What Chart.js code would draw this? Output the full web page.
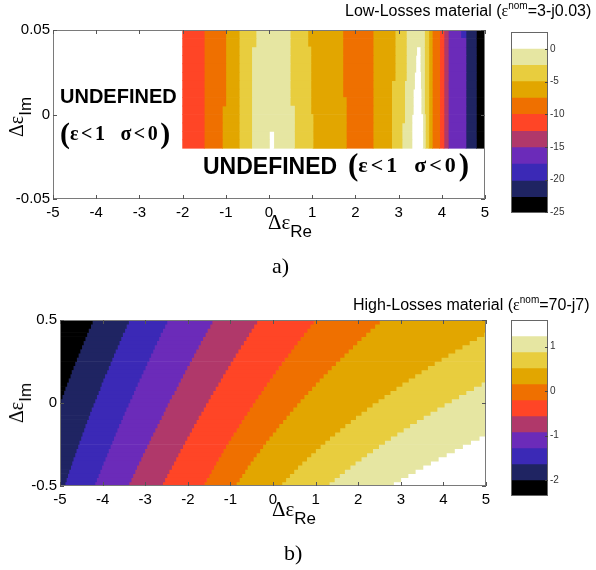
<!DOCTYPE html>
<html><head><meta charset="utf-8">
<script src="https://cdn.jsdelivr.net/npm/chart.js@4.4.1/dist/chart.umd.min.js"></script>
<style>
html,body{margin:0;padding:0;background:#fff;width:596px;height:570px;overflow:hidden;}
#wrap{position:relative;width:596px;height:570px;}
canvas{position:absolute;}
.t{position:absolute;white-space:nowrap;font-family:"Liberation Sans",Arial,sans-serif;color:#000;line-height:1;}
.sf{font-family:"Liberation Serif","Times New Roman",serif;}
sup{font-size:10px;vertical-align:0;position:relative;top:-7px;line-height:0;}
.lbl sub{font-family:"Liberation Sans",Arial,sans-serif;font-size:17px;vertical-align:0;position:relative;top:8px;line-height:0;}
</style></head><body><div id="wrap">
<canvas id="pa" width="500" height="230" style="left:0;top:0"></canvas>
<canvas id="ca" width="80" height="210" style="left:505px;top:20px"></canvas>
<canvas id="pb" width="500" height="211" style="left:0;top:300px"></canvas>
<canvas id="cb" width="80" height="200" style="left:505px;top:310px"></canvas>

<div class="t" style="left:345px;top:3px;font-size:16px">Low-Losses material (<span class="sf">ε</span><sup>nom</sup>=3-j0.03)</div>
<div class="t" style="left:353px;top:297px;font-size:16px">High-Losses material (<span class="sf">ε</span><sup>nom</sup>=70-j7)</div>

<div class="t" style="left:60px;top:86px;font-size:20px;font-weight:bold">UNDEFINED</div>
<div class="t sf" style="left:60px;top:118px;font-weight:bold"><span style="font-size:30px">(</span><span style="font-size:20px;letter-spacing:2.5px;position:relative;top:-3px">ε&lt;1<span style="margin-left:13px">σ&lt;0</span></span><span style="font-size:30px">)</span></div>
<div class="t" style="left:203px;top:155px;font-size:23px;font-weight:bold">UNDEFINED</div>
<div class="t sf" style="left:348px;top:149px;font-weight:bold"><span style="font-size:31px">(</span><span style="font-size:22px;letter-spacing:3px;position:relative;top:-3px">ε&lt;1<span style="margin-left:14px">σ&lt;0</span></span><span style="font-size:31px">)</span></div>

<div class="t lbl" style="left:16px;top:117px;transform:translate(-50%,-50%) rotate(-90deg)"><span class="sf" style="font-size:20px">Δε</span><sub>Im</sub></div>
<div class="t lbl" style="left:16px;top:403px;transform:translate(-50%,-50%) rotate(-90deg)"><span class="sf" style="font-size:20px">Δε</span><sub>Im</sub></div>
<div class="t lbl" style="left:268px;top:212px"><span class="sf" style="font-size:21px">Δε</span><sub>Re</sub></div>
<div class="t lbl" style="left:272px;top:499px"><span class="sf" style="font-size:21px">Δε</span><sub>Re</sub></div>

<div class="t sf" style="left:272px;top:255px;font-size:22px">a)</div>
<div class="t sf" style="left:284px;top:542px;font-size:22px">b)</div>
</div>
<script>
// ---------- data ----------
const COLORS = ['#ffffff','#e6e6a2','#e8cd3e','#e2a600','#ef7000','#ff4526','#b0386a','#6b2bb9','#3b29b6','#1f2462','#000000'];

const xTicks = [-5,-4,-3,-2,-1,0,1,2,3,4,5];
const aYTicks = [-0.05,0,0.05];
const bYTicks = [-0.5,0,0.5];

// Plot a): rows (Δε_Im centres) with colour-band edges along Δε_Re and the band index of each segment
const aRowY = [0.0475,0.0425,0.0375,0.0325,0.0275,0.0225,0.0175,0.0125,0.0075,0.0025,-0.0025,-0.0075,-0.0125,-0.0175];
const aEdges = [
 [-2,-1.5,-1.00,-0.69,-0.30,0.49,0.90,1.71,2.41,2.92,3.18,3.60,3.70,3.78,3.95,4.05,4.15,4.44,4.56,4.80,5],
 [-2,-1.5,-1.00,-0.69,-0.30,0.49,0.90,1.71,2.41,2.92,3.18,3.60,3.70,3.78,3.95,4.05,4.15,4.56,4.80,5],
 [-2,-1.5,-1.00,-0.69,-0.40,0.49,0.97,1.71,2.41,2.92,3.18,3.42,3.50,3.60,3.70,3.78,3.95,4.05,4.15,4.56,4.80,5],
 [-2,-1.5,-1.00,-0.69,-0.40,0.49,0.97,1.71,2.41,2.92,3.18,3.40,3.50,3.60,3.70,3.78,3.95,4.05,4.15,4.56,4.80,5],
 [-2,-1.5,-1.00,-0.69,-0.40,0.49,0.97,1.71,2.41,2.92,3.18,3.40,3.50,3.60,3.70,3.78,3.95,4.05,4.15,4.56,4.80,5],
 [-2,-1.5,-1.00,-0.69,-0.40,0.49,0.97,1.71,2.41,2.92,3.18,3.37,3.51,3.60,3.70,3.78,3.95,4.05,4.15,4.56,4.80,5],
 [-2,-1.5,-1.00,-0.69,-0.40,0.49,0.97,1.71,2.41,2.84,3.14,3.37,3.51,3.60,3.70,3.78,3.95,4.05,4.15,4.56,4.80,5],
 [-2,-1.5,-1.00,-0.69,-0.40,0.49,0.97,1.71,2.41,2.84,3.14,3.34,3.52,3.60,3.70,3.78,3.95,4.05,4.15,4.56,4.80,5],
 [-2,-1.5,-1.00,-0.69,-0.40,0.49,0.97,1.79,2.41,2.84,3.14,3.34,3.52,3.60,3.70,3.78,3.95,4.05,4.15,4.56,4.80,5],
 [-2,-1.5,-1.08,-0.69,-0.40,0.59,0.97,1.79,2.41,2.84,3.14,3.34,3.52,3.60,3.70,3.78,3.95,4.05,4.15,4.56,4.80,5],
 [-2,-1.5,-1.08,-0.69,-0.40,0.59,1.02,1.79,2.41,2.84,3.14,3.31,3.56,3.62,3.70,3.78,3.95,4.05,4.15,4.56,4.80,5],
 [-2,-1.5,-1.08,-0.69,-0.40,0.59,1.02,1.79,2.41,2.84,3.08,3.31,3.56,3.62,3.70,3.78,3.95,4.05,4.15,4.56,4.80,5],
 [-2,-1.5,-1.08,-0.69,-0.40,0.01,0.11,0.59,1.02,1.79,2.41,2.84,3.08,3.31,3.56,3.62,3.70,3.78,3.95,4.05,4.15,4.56,4.80,5],
 [-2,-1.5,-1.08,-0.69,-0.40,0.01,0.11,0.59,1.02,1.79,2.41,2.84,3.08,3.31,3.56,3.62,3.70,3.78,3.95,4.05,4.15,4.56,4.80,5]
];
const aBandsTop  = [5,4,3,2,1,2,3,4,3,2,1,2,3,4,5,6,7,8,9,10];
const aBandsR1   = [5,4,3,2,1,2,3,4,3,2,1,2,3,4,5,6,7,9,10];
const aBandsMid  = [5,4,3,2,1,2,3,4,3,2,1,0,1,2,3,4,5,6,7,9,10];
const aBandsLow  = [5,4,3,2,1,0,1,2,3,4,3,2,1,0,1,2,3,4,5,6,7,9,10];
const aBands = [aBandsTop,aBandsR1,aBandsMid,aBandsMid,aBandsMid,aBandsMid,aBandsMid,aBandsMid,aBandsMid,aBandsMid,aBandsMid,aBandsMid,aBandsLow,aBandsLow];

// Plot b): rows and the ten contour boundaries (Δε_Re) per row
const bRowY = [0.4875,0.4625,0.4375,0.4125,0.3875,0.3625,0.3375,0.3125,0.2875,0.2625,0.2375,0.2125,0.1875,0.1625,0.1375,0.1125,0.0875,0.0625,0.0375,0.0125,
               -0.0125,-0.0375,-0.0625,-0.0875,-0.1125,-0.1375,-0.1625,-0.1875,-0.2125,-0.2375,-0.2625,-0.2875,-0.3125,-0.3375,-0.3625,-0.3875,-0.4125,-0.4375,-0.4625,-0.4875];
const b1 = [-4.24,-4.28,-4.33,-4.37,-4.41,-4.45,-4.49,-4.53,-4.57,-4.61,-4.65,-4.69,-4.73,-4.76,-4.80,-4.84,-4.88,-4.91,-4.95,-4.98,
            -5,-5,-5,-5,-5,-5,-5,-5,-5,-5,-5,-5,-5,-5,-5,-5,-5,-5,-5,-5];
const b2 = [-3.39,-3.44,-3.48,-3.53,-3.57,-3.61,-3.65,-3.70,-3.74,-3.78,-3.82,-3.86,-3.90,-3.95,-3.99,-4.03,-4.06,-4.10,-4.14,-4.18,
            -4.22,-4.26,-4.30,-4.33,-4.37,-4.41,-4.44,-4.48,-4.51,-4.55,-4.58,-4.62,-4.65,-4.69,-4.72,-4.75,-4.79,-4.82,-4.85,-4.88];
const b3 = [-2.49,-2.54,-2.59,-2.64,-2.68,-2.73,-2.78,-2.82,-2.87,-2.91,-2.96,-3.00,-3.05,-3.09,-3.14,-3.18,-3.23,-3.27,-3.31,-3.36,
            -3.40,-3.45,-3.49,-3.53,-3.57,-3.62,-3.66,-3.70,-3.74,-3.78,-3.82,-3.86,-3.90,-3.94,-3.98,-4.02,-4.06,-4.10,-4.14,-4.18];
const b4 = [-1.43,-1.48,-1.54,-1.59,-1.65,-1.70,-1.75,-1.81,-1.86,-1.91,-1.96,-2.02,-2.07,-2.12,-2.17,-2.22,-2.27,-2.32,-2.38,-2.43,
            -2.48,-2.53,-2.57,-2.62,-2.67,-2.72,-2.77,-2.82,-2.87,-2.91,-2.96,-3.01,-3.06,-3.10,-3.15,-3.20,-3.24,-3.29,-3.33,-3.38];
const b5 = [-0.38,-0.45,-0.51,-0.57,-0.63,-0.69,-0.76,-0.82,-0.88,-0.94,-1.00,-1.06,-1.12,-1.18,-1.23,-1.29,-1.35,-1.41,-1.47,-1.52,
            -1.58,-1.63,-1.69,-1.75,-1.80,-1.86,-1.91,-1.96,-2.02,-2.07,-2.12,-2.18,-2.23,-2.28,-2.33,-2.38,-2.44,-2.49,-2.54,-2.59];
const b6 = [0.95,0.87,0.80,0.72,0.64,0.57,0.49,0.42,0.35,0.27,0.20,0.13,0.06,-0.01,-0.08,-0.15,-0.22,-0.28,-0.35,-0.42,
            -0.48,-0.55,-0.61,-0.68,-0.74,-0.80,-0.86,-0.93,-0.99,-1.05,-1.11,-1.17,-1.22,-1.28,-1.34,-1.39,-1.45,-1.50,-1.56,-1.61];
const b7 = [2.50,2.39,2.28,2.18,2.07,1.97,1.87,1.77,1.67,1.57,1.47,1.37,1.28,1.18,1.09,1.00,0.91,0.82,0.73,0.64,
            0.56,0.47,0.39,0.31,0.23,0.14,0.07,-0.01,-0.09,-0.17,-0.24,-0.31,-0.39,-0.46,-0.53,-0.60,-0.66,-0.73,-0.79,-0.86];
const b8 = [5,5,5,4.95,4.78,4.61,4.44,4.27,4.11,3.95,3.79,3.63,3.48,3.33,3.18,3.03,2.89,2.75,2.61,2.47,
            2.33,2.20,2.07,1.94,1.82,1.69,1.57,1.45,1.33,1.22,1.11,1.00,0.89,0.79,0.68,0.58,0.49,0.39,0.30,0.21];
const b9 = [5,5,5,5,5,5,5,5,5,5,5,5,5,5,5,4.89,4.71,4.53,4.36,4.19,
            4.02,3.85,3.69,3.53,3.37,3.21,3.06,2.91,2.76,2.62,2.48,2.34,2.20,2.07,1.93,1.81,1.68,1.56,1.44,1.32];
const b10 = [5,5,5,5,5,5,5,5,5,5,5,5,5,5,5,5,5,5,5,5,
             5,5,5,5,5,5,5,5,4.84,4.64,4.45,4.26,4.07,3.88,3.70,3.52,3.34,3.17,3.00,2.83];
const bBands = [10,9,8,7,6,5,4,3,2,1,0];

// Colour bars: level boundaries (top to bottom) and tick labels
const cbALevels = [2.6,0.1,-2.4,-4.9,-7.4,-9.9,-12.5,-15.0,-17.5,-20.1,-22.6,-25.1];
const cbATicks = [0,-5,-10,-15,-20,-25];
const cbBLevels = [1.6,1.24,0.88,0.52,0.16,-0.2,-0.56,-0.92,-1.28,-1.64,-2.0,-2.36];
const cbBTicks = [1,0,-1,-2];

// ---------- build ----------
Chart.defaults.font.family = '"Liberation Sans", Arial, sans-serif';
Chart.defaults.color = '#000';

function buildSets(rowY, edges, bands){
  const n = Math.max(...bands.map(b=>b.length));
  const sets = [];
  for (let k=0;k<n;k++){
    const data=[], colors=[];
    rowY.forEach((y,r)=>{
      if (k < bands[r].length){
        const x0 = edges[r][k], x1 = edges[r][k+1];
        if (x1 > x0){ data.push({x:[x0,x1], y}); colors.push(COLORS[bands[r][k]]); }
      }
    });
    sets.push({data, backgroundColor:colors, borderWidth:0, grouped:false, barPercentage:1, categoryPercentage:1});
  }
  return sets;
}

const framePlugin = {
  id:'frame',
  afterDatasetsDraw(chart, args, opts){
    const {ctx, chartArea:a, scales} = chart;
    ctx.save();
    ctx.strokeStyle = opts.color || '#7a7a7a';
    ctx.lineWidth = 1;
    ctx.strokeRect(a.left+0.5, a.top+0.5, a.right-a.left-1, a.bottom-a.top-1);
    const L = opts.len || 4;
    ctx.strokeStyle = opts.tickColor || '#555';
    ctx.beginPath();
    if (opts.xTicks && scales.x){
      scales.x.ticks.forEach(t=>{
        const p = Math.round(scales.x.getPixelForValue(t.value))+0.5;
        ctx.moveTo(p,a.bottom); ctx.lineTo(p,a.bottom-L);
        ctx.moveTo(p,a.top); ctx.lineTo(p,a.top+L);
      });
    }
    if (opts.yTicks && scales.y){
      scales.y.ticks.forEach(t=>{
        const p = Math.round(scales.y.getPixelForValue(t.value))+0.5;
        if (opts.yLeft !== false){ ctx.moveTo(a.left,p); ctx.lineTo(a.left+L,p); }
        ctx.moveTo(a.right,p); ctx.lineTo(a.right-L,p);
      });
    }
    ctx.stroke();
    ctx.restore();
  }
};

function plotConfig(sets, yTicks, yMin, yMax, yW, xH, pad){
  return {
    type:'bar',
    data:{datasets:sets},
    options:{
      responsive:false, animation:false, indexAxis:'y',
      layout:{padding:pad},
      plugins:{legend:{display:false}, tooltip:{enabled:false}, frame:{xTicks:true, yTicks:true}},
      scales:{
        x:{type:'linear', min:-5, max:5, offset:false,
           grid:{display:false, drawTicks:false}, border:{display:false},
           ticks:{padding:5, font:{size:15}, color:'#000', maxRotation:0},
           afterBuildTicks:s=>{s.ticks = xTicks.map(v=>({value:v}));},
           afterFit:s=>{s.height = xH;}},
        y:{type:'linear', min:yMin, max:yMax, offset:false,
           grid:{display:false, drawTicks:false}, border:{display:false},
           ticks:{padding:3, font:{size:15}, color:'#000'},
           afterBuildTicks:s=>{s.ticks = yTicks.map(v=>({value:v}));},
           afterFit:s=>{s.width = yW;}}
      }
    },
    plugins:[framePlugin]
  };
}

function cbConfig(levels, ticks, pad, yW){
  const sets = [];
  for (let k=0;k<levels.length-1;k++){
    sets.push({data:[[levels[k+1], levels[k]]], backgroundColor:COLORS[k], borderWidth:0, grouped:false, barPercentage:1, categoryPercentage:1});
  }
  return {
    type:'bar',
    data:{labels:['c'], datasets:sets},
    options:{
      responsive:false, animation:false,
      layout:{padding:pad},
      plugins:{legend:{display:false}, tooltip:{enabled:false}, frame:{xTicks:false, yTicks:true, yLeft:false, len:3, color:'#666', tickColor:'#444'}},
      scales:{
        x:{display:false},
        y:{type:'linear', position:'right', min:levels[levels.length-1], max:levels[0],
           grid:{display:false, drawTicks:false}, border:{display:false},
           ticks:{padding:2, font:{size:10}, color:'#333'},
           afterBuildTicks:s=>{s.ticks = ticks.map(v=>({value:v}));},
           afterFit:s=>{s.width = yW;}}
      }
    },
    plugins:[framePlugin]
  };
}

const bEdges = bRowY.map((y,r)=>[-5,b1[r],b2[r],b3[r],b4[r],b5[r],b6[r],b7[r],b8[r],b9[r],b10[r],5]);
const bBandRows = bRowY.map(()=>bBands);

new Chart(document.getElementById('pa'), plotConfig(buildSets(aRowY,aEdges,aBands), aYTicks, -0.05, 0.05, 53, 31, {left:0,right:15,top:30,bottom:0}));
new Chart(document.getElementById('pb'), plotConfig(buildSets(bRowY,bEdges,bBandRows), bYTicks, -0.5, 0.5, 60, 25, {left:0,right:14,top:20,bottom:0}));
new Chart(document.getElementById('ca'), cbConfig(cbALevels, cbATicks, {left:6,right:0,top:12,bottom:17}, 37));
new Chart(document.getElementById('cb'), cbConfig(cbBLevels, cbBTicks, {left:6,right:0,top:10,bottom:14}, 37));
</script>
</body></html>
